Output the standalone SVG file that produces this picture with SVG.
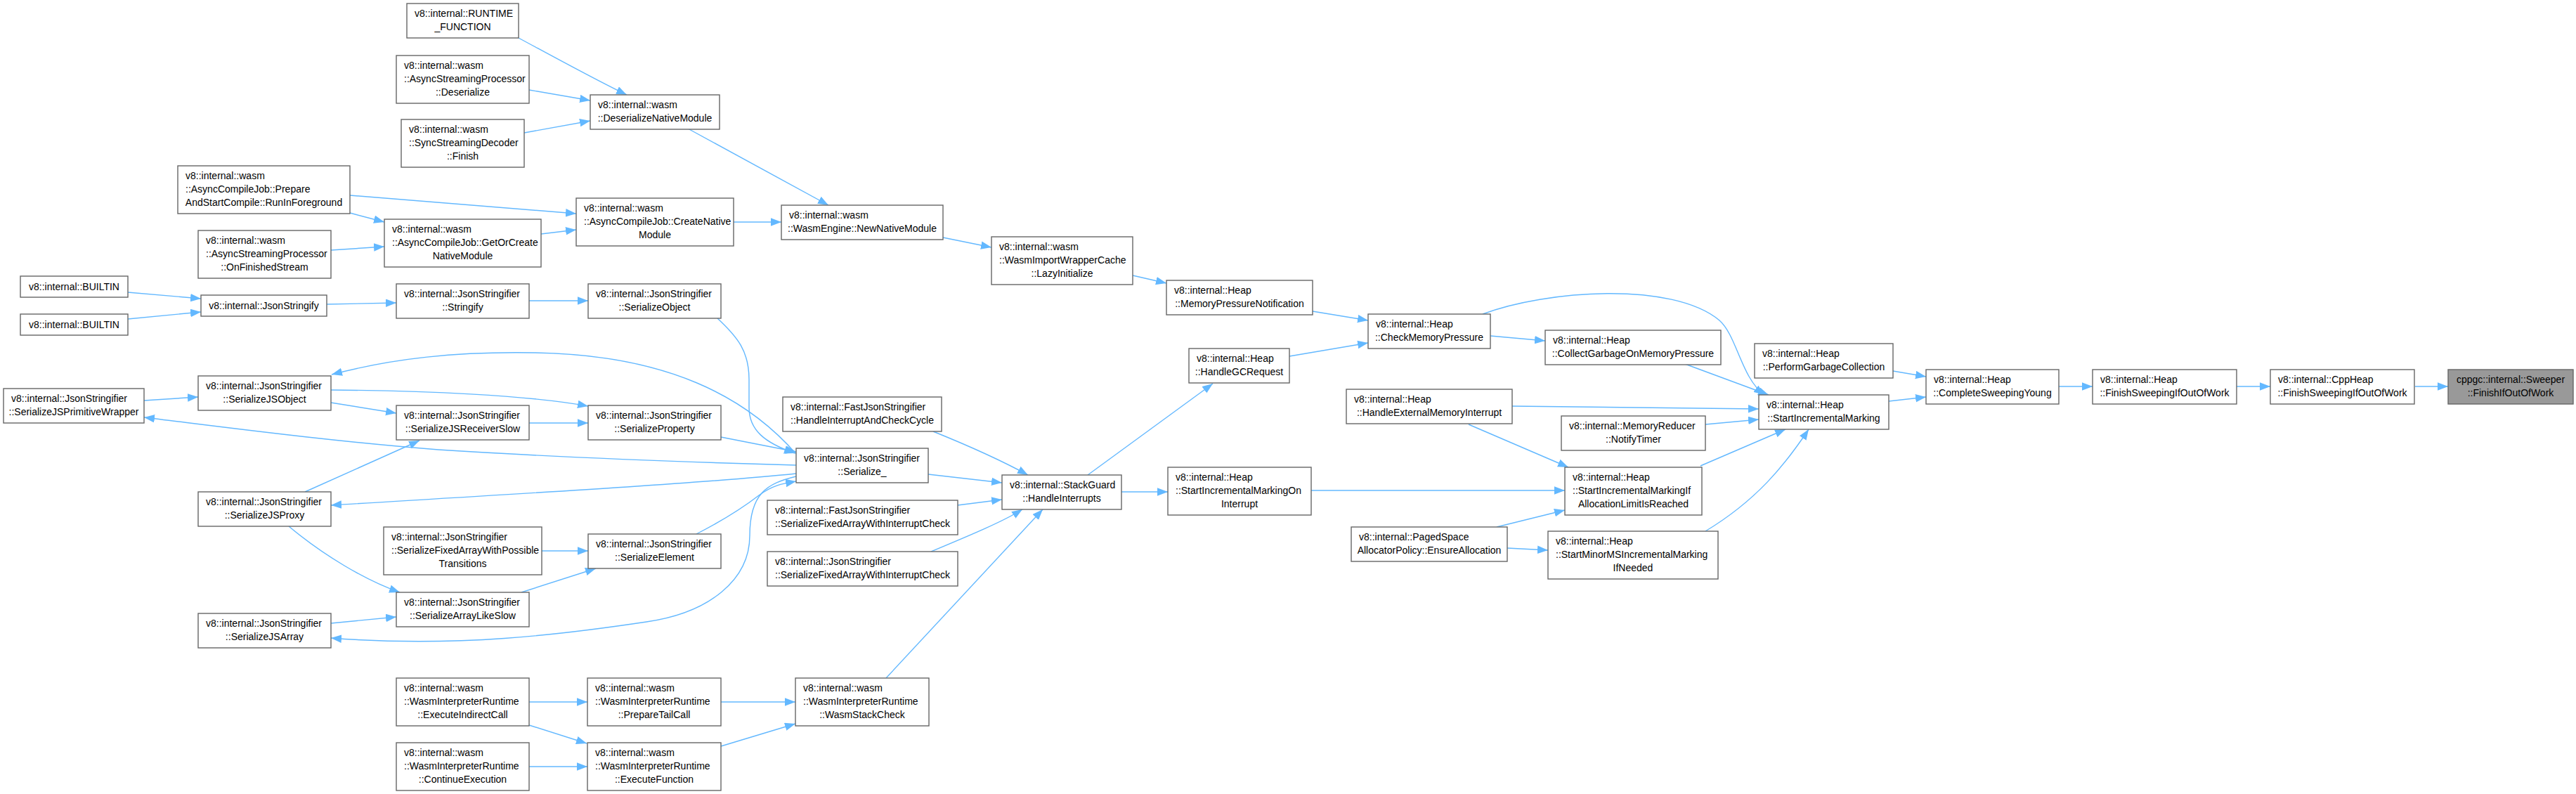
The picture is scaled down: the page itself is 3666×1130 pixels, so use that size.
<svg xmlns="http://www.w3.org/2000/svg" width="3666" height="1130" viewBox="0 0 3666 1130">
<style>
.node rect{fill:#ffffff;stroke:#666666;stroke-width:1.4}
.root rect{fill:#999999;stroke:#666666;stroke-width:1.4}
text{font-family:"Liberation Sans",Arial,sans-serif;font-size:14px;fill:#000000}
.c{text-anchor:middle}
#edges path{fill:none;stroke:#63b8ff;stroke-width:1.4;marker-end:url(#arr)}
</style>
<defs>
<marker id="arr" markerUnits="userSpaceOnUse" markerWidth="16" markerHeight="12" refX="15" refY="5.75" orient="auto">
<path d="M0,0 L15,5.75 L0,11.5 z" fill="#63b8ff"/>
</marker>
</defs>
<rect width="3666" height="1130" fill="#ffffff"/>
<g id="edges">
<path d="M738,54 C790,82 850,115 892,135"/>
<path d="M753,128 L840,143"/>
<path d="M746,189 L840,172"/>
<path d="M979,183 L1179,292"/>
<path d="M498,278 L820,304"/>
<path d="M498,303 L547,316"/>
<path d="M471,356 L547,351"/>
<path d="M770,333 L820,327"/>
<path d="M1044,316 L1112,316"/>
<path d="M1342,338 L1411,352"/>
<path d="M1612,392 L1660,403"/>
<path d="M1868,443 L1947,456"/>
<path d="M1835,507 L1947,488"/>
<path d="M2121,478 L2199,485"/>
<path d="M2110,447 C2200,413 2380,400 2447,456 C2472,478 2478,538 2511,562"/>
<path d="M2398,518 L2517,562"/>
<path d="M2152,578 L2503,582"/>
<path d="M2090,604 L2232,665"/>
<path d="M2427,604 L2503,597"/>
<path d="M2420,663 L2541,611"/>
<path d="M2427,756 C2500,712 2540,662 2574,611"/>
<path d="M1866,698 L2227,698"/>
<path d="M2130,750 L2227,726"/>
<path d="M2145,780 L2203,783"/>
<path d="M2694,528 L2741,536"/>
<path d="M2688,571 L2741,565"/>
<path d="M2930,550 L2978,550"/>
<path d="M3183,550 L3231,550"/>
<path d="M3437,550 L3484,550"/>
<path d="M1548,676 L1726,546"/>
<path d="M1596,700 L1662,700"/>
<path d="M1328,614 C1380,635 1430,658 1463,676"/>
<path d="M1321,675 L1426,687"/>
<path d="M1363,719 L1426,711"/>
<path d="M1325,785 C1380,762 1428,742 1455,725"/>
<path d="M1261,965 L1484,725"/>
<path d="M1026,999 L1132,999"/>
<path d="M1026,1062 L1132,1030"/>
<path d="M753,999 L836,999"/>
<path d="M753,1032 L835,1058"/>
<path d="M753,1091 L836,1091"/>
<path d="M182,416 L286,425"/>
<path d="M182,454 L286,444"/>
<path d="M465,433 L564,431"/>
<path d="M753,428 L837,428"/>
<path d="M1021,453 C1050,480 1066,500 1066,540 L1066,580 C1066,612 1088,630 1131,645"/>
<path d="M1026,622 L1133,643"/>
<path d="M471,555 C600,556 750,562 837,578"/>
<path d="M471,573 L564,588"/>
<path d="M205,570 L282,565"/>
<path d="M753,602 L837,602"/>
<path d="M1133,646 C1062,565 950,505 761,502 C650,500 560,510 472,533"/>
<path d="M1133,662 C950,657 780,650 624,640 C470,628 320,608 205,594"/>
<path d="M1133,674 C1000,688 700,705 471,719"/>
<path d="M1133,678 C1092,688 1067,702 1067,762 C1067,825 1010,872 920,885 C800,903 650,922 471,908"/>
<path d="M434,700 L597,627"/>
<path d="M411,749 C460,790 520,826 569,843"/>
<path d="M471,887 L564,878"/>
<path d="M771,784 L837,784"/>
<path d="M742,843 L848,809"/>
<path d="M991,760 C1030,740 1058,722 1080,705 C1100,690 1115,688 1133,685"/>
</g>
<g id="n_runtime" class="node"><rect x="579" y="5" width="159" height="49"/><text x="590" y="24">v8::internal::RUNTIME</text><text class="c" x="658.5" y="43">_FUNCTION</text></g>
<g id="n_asp_deserialize" class="node"><rect x="564" y="79" width="189" height="68"/><text x="575" y="98">v8::internal::wasm</text><text x="575" y="117">::AsyncStreamingProcessor</text><text class="c" x="658.5" y="136">::Deserialize</text></g>
<g id="n_ssd_finish" class="node"><rect x="571" y="170" width="175" height="68"/><text x="582" y="189">v8::internal::wasm</text><text x="582" y="208">::SyncStreamingDecoder</text><text class="c" x="658.5" y="227">::Finish</text></g>
<g id="n_deserialize_native_module" class="node"><rect x="840" y="135" width="184" height="49"/><text x="851" y="154">v8::internal::wasm</text><text class="c" x="932" y="173">::DeserializeNativeModule</text></g>
<g id="n_prepare_and_start" class="node"><rect x="253" y="236" width="245" height="68"/><text x="264" y="255">v8::internal::wasm</text><text x="264" y="274">::AsyncCompileJob::Prepare</text><text class="c" x="375.5" y="293">AndStartCompile::RunInForeground</text></g>
<g id="n_on_finished_stream" class="node"><rect x="282" y="328" width="189" height="68"/><text x="293" y="347">v8::internal::wasm</text><text x="293" y="366">::AsyncStreamingProcessor</text><text class="c" x="376.5" y="385">::OnFinishedStream</text></g>
<g id="n_get_or_create" class="node"><rect x="547" y="312" width="223" height="68"/><text x="558" y="331">v8::internal::wasm</text><text x="558" y="350">::AsyncCompileJob::GetOrCreate</text><text class="c" x="658.5" y="369">NativeModule</text></g>
<g id="n_create_native" class="node"><rect x="820" y="282" width="224" height="68"/><text x="831" y="301">v8::internal::wasm</text><text x="831" y="320">::AsyncCompileJob::CreateNative</text><text class="c" x="932" y="339">Module</text></g>
<g id="n_new_native_module" class="node"><rect x="1112" y="292" width="230" height="49"/><text x="1123" y="311">v8::internal::wasm</text><text class="c" x="1227" y="330">::WasmEngine::NewNativeModule</text></g>
<g id="n_lazy_initialize" class="node"><rect x="1411" y="337" width="201" height="68"/><text x="1422" y="356">v8::internal::wasm</text><text x="1422" y="375">::WasmImportWrapperCache</text><text class="c" x="1511.5" y="394">::LazyInitialize</text></g>
<g id="n_memory_pressure_notification" class="node"><rect x="1660" y="399" width="208" height="49"/><text x="1671" y="418">v8::internal::Heap</text><text class="c" x="1764" y="437">::MemoryPressureNotification</text></g>
<g id="n_handle_gc_request" class="node"><rect x="1692" y="496" width="143" height="49"/><text x="1703" y="515">v8::internal::Heap</text><text class="c" x="1763.5" y="534">::HandleGCRequest</text></g>
<g id="n_check_memory_pressure" class="node"><rect x="1947" y="447" width="174" height="49"/><text x="1958" y="466">v8::internal::Heap</text><text class="c" x="2034" y="485">::CheckMemoryPressure</text></g>
<g id="n_collect_garbage" class="node"><rect x="2199" y="470" width="250" height="49"/><text x="2210" y="489">v8::internal::Heap</text><text class="c" x="2324" y="508">::CollectGarbageOnMemoryPressure</text></g>
<g id="n_handle_external_memory" class="node"><rect x="1916" y="554" width="236" height="49"/><text x="1927" y="573">v8::internal::Heap</text><text class="c" x="2034" y="592">::HandleExternalMemoryInterrupt</text></g>
<g id="n_notify_timer" class="node"><rect x="2222" y="592" width="205" height="49"/><text x="2233" y="611">v8::internal::MemoryReducer</text><text class="c" x="2324.5" y="630">::NotifyTimer</text></g>
<g id="n_sim_on_interrupt" class="node"><rect x="1662" y="665" width="204" height="68"/><text x="1673" y="684">v8::internal::Heap</text><text x="1673" y="703">::StartIncrementalMarkingOn</text><text class="c" x="1764" y="722">Interrupt</text></g>
<g id="n_sim_if_limit" class="node"><rect x="2227" y="665" width="195" height="68"/><text x="2238" y="684">v8::internal::Heap</text><text x="2238" y="703">::StartIncrementalMarkingIf</text><text class="c" x="2324.5" y="722">AllocationLimitIsReached</text></g>
<g id="n_ensure_allocation" class="node"><rect x="1923" y="750" width="222" height="49"/><text x="1934" y="769">v8::internal::PagedSpace</text><text class="c" x="2034" y="788">AllocatorPolicy::EnsureAllocation</text></g>
<g id="n_start_minor_ms" class="node"><rect x="2203" y="756" width="242" height="68"/><text x="2214" y="775">v8::internal::Heap</text><text x="2214" y="794">::StartMinorMSIncrementalMarking</text><text class="c" x="2324" y="813">IfNeeded</text></g>
<g id="n_perform_gc" class="node"><rect x="2497" y="489" width="197" height="49"/><text x="2508" y="508">v8::internal::Heap</text><text class="c" x="2595.5" y="527">::PerformGarbageCollection</text></g>
<g id="n_start_incremental_marking" class="node"><rect x="2503" y="562" width="185" height="49"/><text x="2514" y="581">v8::internal::Heap</text><text class="c" x="2595.5" y="600">::StartIncrementalMarking</text></g>
<g id="n_complete_sweeping_young" class="node"><rect x="2741" y="526" width="189" height="49"/><text x="2752" y="545">v8::internal::Heap</text><text class="c" x="2835.5" y="564">::CompleteSweepingYoung</text></g>
<g id="n_heap_finish_sweeping" class="node"><rect x="2978" y="526" width="205" height="49"/><text x="2989" y="545">v8::internal::Heap</text><text class="c" x="3080.5" y="564">::FinishSweepingIfOutOfWork</text></g>
<g id="n_cppheap_finish_sweeping" class="node"><rect x="3231" y="526" width="205" height="49"/><text x="3242" y="545">v8::internal::CppHeap</text><text class="c" x="3333.5" y="564">::FinishSweepingIfOutOfWork</text></g>
<g id="n_root" class="root"><rect x="3484" y="526" width="178" height="49"/><text class="c" x="3573" y="545">cppgc::internal::Sweeper</text><text class="c" x="3573" y="564">::FinishIfOutOfWork</text></g>
<g id="n_handle_interrupts" class="node"><rect x="1426" y="676" width="170" height="49"/><text x="1437" y="695">v8::internal::StackGuard</text><text class="c" x="1511" y="714">::HandleInterrupts</text></g>
<g id="n_handle_interrupt_check_cycle" class="node"><rect x="1114" y="565" width="226" height="49"/><text x="1125" y="584">v8::internal::FastJsonStringifier</text><text class="c" x="1227" y="603">::HandleInterruptAndCheckCycle</text></g>
<g id="n_serialize_" class="node"><rect x="1133" y="638" width="188" height="49"/><text x="1144" y="657">v8::internal::JsonStringifier</text><text class="c" x="1227" y="676">::Serialize_</text></g>
<g id="n_fast_sfawic" class="node"><rect x="1092" y="712" width="271" height="49"/><text x="1103" y="731">v8::internal::FastJsonStringifier</text><text class="c" x="1227.5" y="750">::SerializeFixedArrayWithInterruptCheck</text></g>
<g id="n_json_sfawic" class="node"><rect x="1092" y="785" width="271" height="49"/><text x="1103" y="804">v8::internal::JsonStringifier</text><text class="c" x="1227.5" y="823">::SerializeFixedArrayWithInterruptCheck</text></g>
<g id="n_wasm_stack_check" class="node"><rect x="1132" y="965" width="190" height="68"/><text x="1143" y="984">v8::internal::wasm</text><text x="1143" y="1003">::WasmInterpreterRuntime</text><text class="c" x="1227" y="1022">::WasmStackCheck</text></g>
<g id="n_prepare_tail_call" class="node"><rect x="836" y="965" width="190" height="68"/><text x="847" y="984">v8::internal::wasm</text><text x="847" y="1003">::WasmInterpreterRuntime</text><text class="c" x="931" y="1022">::PrepareTailCall</text></g>
<g id="n_execute_function" class="node"><rect x="836" y="1057" width="190" height="68"/><text x="847" y="1076">v8::internal::wasm</text><text x="847" y="1095">::WasmInterpreterRuntime</text><text class="c" x="931" y="1114">::ExecuteFunction</text></g>
<g id="n_execute_indirect_call" class="node"><rect x="564" y="965" width="189" height="68"/><text x="575" y="984">v8::internal::wasm</text><text x="575" y="1003">::WasmInterpreterRuntime</text><text class="c" x="658.5" y="1022">::ExecuteIndirectCall</text></g>
<g id="n_continue_execution" class="node"><rect x="564" y="1057" width="189" height="68"/><text x="575" y="1076">v8::internal::wasm</text><text x="575" y="1095">::WasmInterpreterRuntime</text><text class="c" x="658.5" y="1114">::ContinueExecution</text></g>
<g id="n_builtin1" class="node"><rect x="29" y="393" width="153" height="30"/><text class="c" x="105.5" y="413">v8::internal::BUILTIN</text></g>
<g id="n_builtin2" class="node"><rect x="29" y="447" width="153" height="30"/><text class="c" x="105.5" y="467">v8::internal::BUILTIN</text></g>
<g id="n_json_stringify" class="node"><rect x="286" y="420" width="179" height="30"/><text class="c" x="375.5" y="440">v8::internal::JsonStringify</text></g>
<g id="n_stringify" class="node"><rect x="564" y="404" width="189" height="49"/><text x="575" y="423">v8::internal::JsonStringifier</text><text class="c" x="658.5" y="442">::Stringify</text></g>
<g id="n_serialize_object" class="node"><rect x="837" y="404" width="189" height="49"/><text x="848" y="423">v8::internal::JsonStringifier</text><text class="c" x="931.5" y="442">::SerializeObject</text></g>
<g id="n_serialize_js_object" class="node"><rect x="282" y="535" width="189" height="49"/><text x="293" y="554">v8::internal::JsonStringifier</text><text class="c" x="376.5" y="573">::SerializeJSObject</text></g>
<g id="n_serialize_js_primitive_wrapper" class="node"><rect x="5" y="553" width="200" height="49"/><text x="16" y="572">v8::internal::JsonStringifier</text><text class="c" x="105" y="591">::SerializeJSPrimitiveWrapper</text></g>
<g id="n_serialize_js_receiver_slow" class="node"><rect x="564" y="577" width="189" height="49"/><text x="575" y="596">v8::internal::JsonStringifier</text><text class="c" x="658.5" y="615">::SerializeJSReceiverSlow</text></g>
<g id="n_serialize_property" class="node"><rect x="837" y="577" width="189" height="49"/><text x="848" y="596">v8::internal::JsonStringifier</text><text class="c" x="931.5" y="615">::SerializeProperty</text></g>
<g id="n_serialize_js_proxy" class="node"><rect x="282" y="700" width="189" height="49"/><text x="293" y="719">v8::internal::JsonStringifier</text><text class="c" x="376.5" y="738">::SerializeJSProxy</text></g>
<g id="n_sfawpt" class="node"><rect x="546" y="750" width="225" height="68"/><text x="557" y="769">v8::internal::JsonStringifier</text><text x="557" y="788">::SerializeFixedArrayWithPossible</text><text class="c" x="658.5" y="807">Transitions</text></g>
<g id="n_serialize_element" class="node"><rect x="837" y="760" width="189" height="49"/><text x="848" y="779">v8::internal::JsonStringifier</text><text class="c" x="931.5" y="798">::SerializeElement</text></g>
<g id="n_serialize_array_like_slow" class="node"><rect x="564" y="843" width="189" height="49"/><text x="575" y="862">v8::internal::JsonStringifier</text><text class="c" x="658.5" y="881">::SerializeArrayLikeSlow</text></g>
<g id="n_serialize_js_array" class="node"><rect x="282" y="873" width="189" height="49"/><text x="293" y="892">v8::internal::JsonStringifier</text><text class="c" x="376.5" y="911">::SerializeJSArray</text></g>
</svg>
